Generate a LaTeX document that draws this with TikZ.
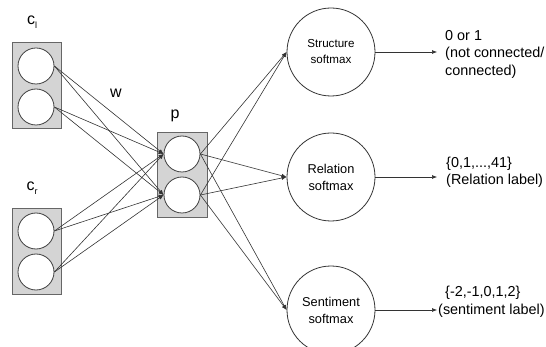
\documentclass[tikz,border=0pt]{standalone}
\usepackage{fontspec}
\setmainfont{Liberation Sans}
\usetikzlibrary{arrows.meta}
\begin{document}
\begin{tikzpicture}[x=1pt,y=-1pt,
 unit/.style={circle,draw=black!75,fill=white,line width=0.8pt,minimum size=36pt,inner sep=0pt},
 layer/.style={draw=black!60,fill=black!17,line width=0.8pt,minimum width=49pt,minimum height=86pt,inner sep=0pt},
 smax/.style={circle,draw=black!80,line width=0.8pt,minimum size=88pt,inner sep=0pt,align=center,font=\fontsize{12.8}{17}\selectfont},
 conn/.style={-{Latex[length=5pt,width=4pt]},draw=black!80,line width=0.6pt},
 lbl/.style={font=\fontsize{16}{18}\selectfont,inner sep=0pt},
 outtxt/.style={anchor=west,align=left,font=\fontsize{14.4}{17.5}\selectfont,inner sep=0pt}]
\useasboundingbox (0,0) rectangle (546,347);
% layer boxes
\node[layer] (clbox) at (36.5,85) {};
\node[layer] (crbox) at (36.5,251) {};
\node[layer,minimum width=50pt,minimum height=85pt] (pbox) at (182,174.5) {};
% units
\node[unit] (cl1) at (36,66) {};
\node[unit] (cl2) at (36,107) {};
\node[unit] (cr1) at (36,231) {};
\node[unit] (cr2) at (36,272) {};
\node[unit] (p1) at (182,154) {};
\node[unit] (p2) at (182,195) {};
% labels
\node[lbl] (lcl) at (32,22) {c\raisebox{-3.5pt}{\fontsize{9}{9}\selectfont l}};
\node[lbl] (lcr) at (32,188) {c\raisebox{-3.5pt}{\fontsize{9}{9}\selectfont r}};
\node[lbl] (lw) at (116,93) {w};
\node[lbl] (lp) at (175,116) {p};
% softmax circles
\node[smax,font=\fontsize{11.6}{16}\selectfont] (s1) at (331,52) {Structure\\softmax};
\node[smax] (s2) at (331,177) {Relation\\softmax};
\node[smax] (s3) at (331,310) {Sentiment\\softmax};
% input -> p
\foreach \a in {cl1,cl2,cr1,cr2}{
  \draw[conn] (\a.east) -- (p1.west);
  \draw[conn] (\a.east) -- (p2.west);
}
% p -> softmax
\foreach \a in {p1,p2}{
  \foreach \b in {s1,s2,s3}{
    \draw[conn] (\a.east) -- (\b.west);
  }
}
% outputs
\coordinate (o1) at (437,52);
\coordinate (o2) at (437,177);
\coordinate (o3) at (437,310);
\draw[conn] (s1.east) -- (o1);
\draw[conn] (s2.east) -- (o2);
\draw[conn] (s3.east) -- (o3);
\node[outtxt] (t1) at (445,54) {0 or 1\\(not connected/\\connected)};
\node[outtxt] (t2) at (446,172.5) {\{0,1,...,41\}\\(Relation label)};
\node[outtxt] (t3) at (445,302) {\{-2,-1,0,1,2\}\\\hspace*{-7pt}(sentiment label)};
\end{tikzpicture}
\end{document}
